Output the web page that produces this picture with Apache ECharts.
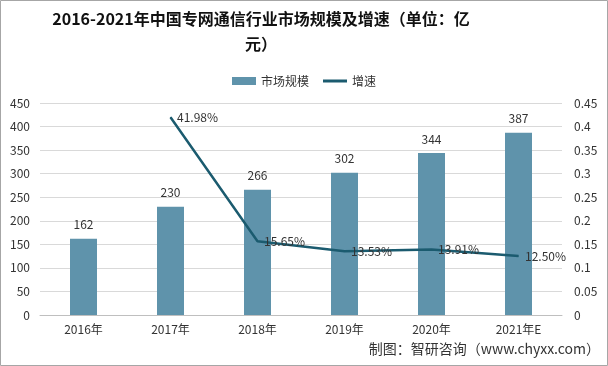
<!DOCTYPE html>
<html><head><meta charset="utf-8">
<script src="https://cdn.jsdelivr.net/npm/echarts@6/dist/echarts.min.js"></script>
<style>html,body{margin:0;padding:0;background:#fff}#c{width:608px;height:366px}</style>
</head><body><div id="c"></div>
<script>
const categories = ['2016年','2017年','2018年','2019年','2020年','2021年E'];
const marketSize = [162, 230, 266, 302, 344, 387];
const growth = [null, 0.4198, 0.1565, 0.1353, 0.1391, 0.1250];
const leftTicks = [0, 450, 50];
const rightTicks = [0, 0.45, 0.05];

const chart = echarts.init(document.getElementById('c'), null, {renderer:'canvas'});
const font = '"Noto Sans CJK SC", "Noto Sans", sans-serif';
chart.setOption({
  animation: false,
  textStyle: {fontFamily: font},
  legend: {
    top: 70, left: 'center',
    itemWidth: 24, itemHeight: 8, itemGap: 14,
    textStyle: {fontSize: 12, color: '#333', fontFamily: font},
    data: [{name:'市场规模', icon:'rect'}, {name:'增速', icon:'path://M0,3L24,3L24,6L0,6Z'}]
  },
  grid: {left: 40, right: 46, top: 103, bottom: 51},
  xAxis: {
    type: 'category', data: categories,
    axisLine: {lineStyle: {color: '#bfbfbf'}},
    axisTick: {show: false},
    axisLabel: {color: '#333', fontSize: 12, margin: 8}
  },
  yAxis: [{
    type: 'value', min: leftTicks[0], max: leftTicks[1], interval: leftTicks[2],
    axisLine: {show: false}, axisTick: {show: false},
    splitLine: {lineStyle: {color: '#d9d9d9'}},
    axisLabel: {color: '#333', fontSize: 12, margin: 10}
  },{
    type: 'value', min: rightTicks[0], max: rightTicks[1], interval: rightTicks[2],
    axisLine: {show: false}, axisTick: {show: false},
    splitLine: {show: false},
    axisLabel: {color: '#333', fontSize: 12, margin: 12,
      formatter: v => String(Math.round(v*100)/100)}
  }],
  series: [{
    name: '市场规模', type: 'bar', data: marketSize, barWidth: 27,
    itemStyle: {color: '#5f93ab'},
    label: {show: true, position: 'top', color: '#333', fontSize: 12, distance: 8}
  },{
    name: '增速', type: 'line', yAxisIndex: 1, data: growth,
    symbol: 'circle', symbolSize: 1, showSymbol: true,
    lineStyle: {color: '#1b5b6f', width: 2.5},
    itemStyle: {color: '#1b5b6f'},
    label: {show: true, position: 'right', color: '#333', fontSize: 12, distance: 6,
      formatter: p => (p.value*100).toFixed(2) + '%'}
  }],
  graphic: [
    {type:'rect', shape:{x:0.5,y:0.5,width:607,height:365}, style:{fill:'none', stroke:'#a6a6a6', lineWidth:1}, silent:true},
    {type:'text', x: 261, y: 6, style:{text:'2016-2021年中国专网通信行业市场规模及增速（单位：亿\n元）', textAlign:'center', fill:'#111', fontSize: 16, fontWeight:'bold', lineHeight: 25, fontFamily: font}},
    {type:'text', right: 8, top: 342, style:{text:'制图：智研咨询（www.chyxx.com）', fill:'#333', fontSize: 14, fontFamily: font}}
  ]
});
</script></body></html>
